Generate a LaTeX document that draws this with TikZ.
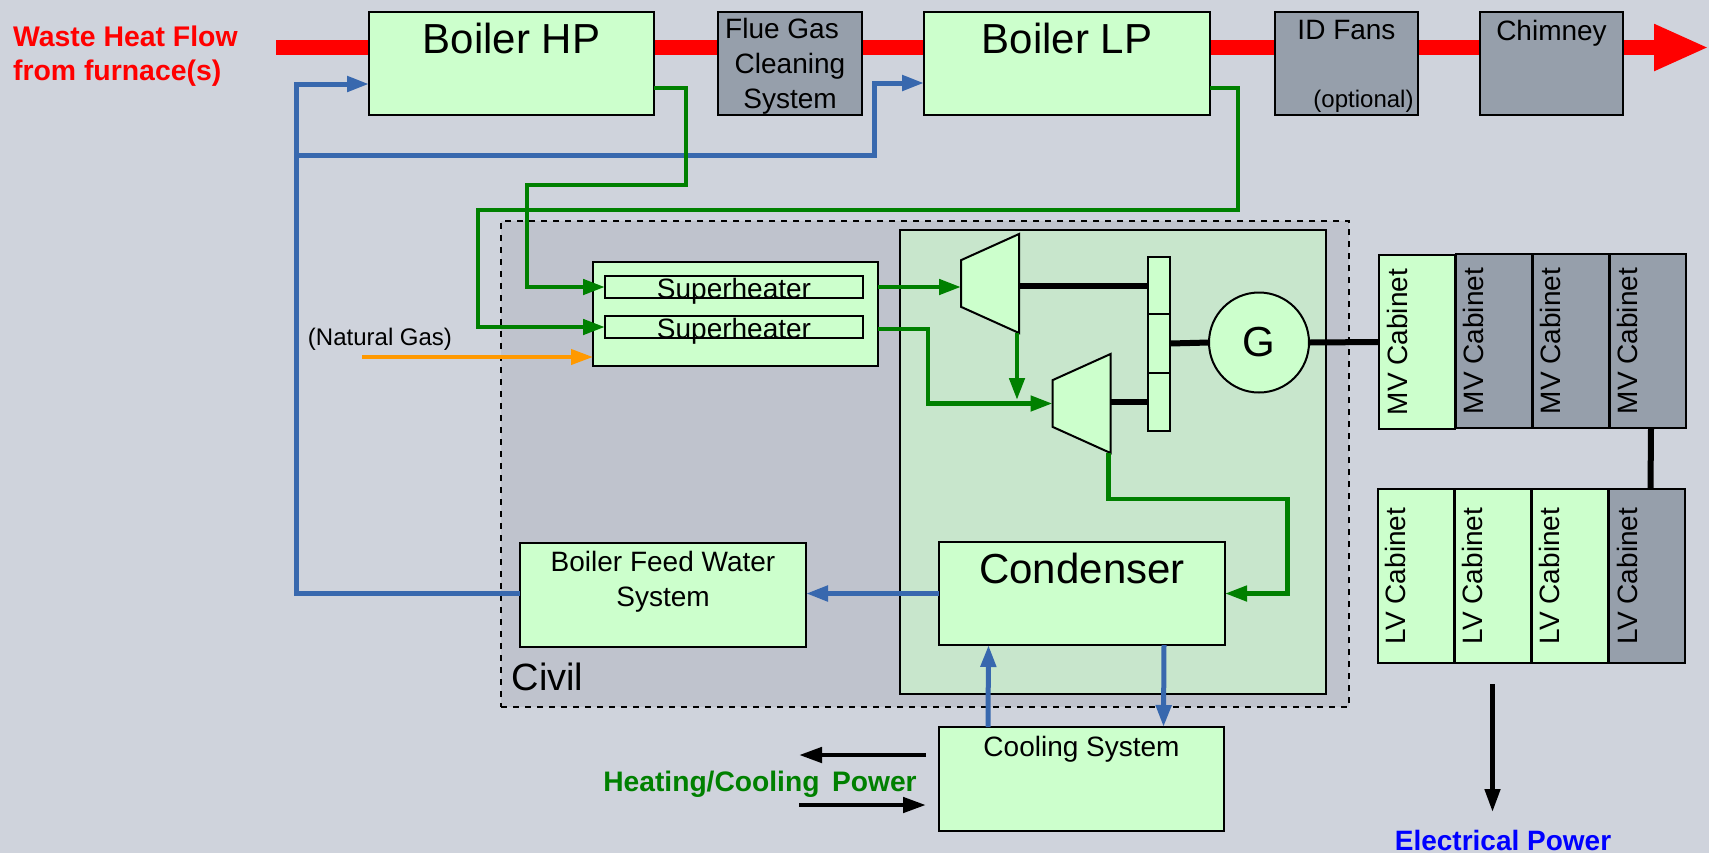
\documentclass[tikz,border=0pt]{standalone}
\usepackage{fontspec}
\setmainfont{Liberation Sans}
\usetikzlibrary{positioning,arrows.meta,shapes.geometric}
\definecolor{pagebg}{HTML}{CFD3DC}
\definecolor{civilbg}{HTML}{BFC3CD}
\definecolor{plantbg}{HTML}{C8E6CC}
\definecolor{lightgreen}{HTML}{CCFFCC}
\definecolor{slate}{HTML}{969FAB}
\definecolor{water}{HTML}{3868AE}
\definecolor{steam}{HTML}{008000}
\definecolor{gas}{HTML}{FF9900}

\begin{document}
\begin{tikzpicture}[
      x=0.5pt, y=-0.5pt,
      smalltext/.style={font=\fontsize{14}{17.5}\selectfont},
      bigtext/.style={font=\fontsize{21}{25}\selectfont},
      unit/.style={rectangle, draw=black, line width=1pt, inner sep=0pt,
      outer sep=0pt, align=center},
      plantbox/.style={unit, fill=lightgreen},
      slatebox/.style={unit, fill=slate},
      heater/.style={plantbox, minimum width=129pt, minimum height=11pt,
      text height=11pt, text depth=0pt, smalltext},
      cabinet/.style={unit, rotate=90, minimum width=87pt,
      minimum height=38pt, text depth=20pt, smalltext},
      shaftbox/.style={plantbox, minimum width=11pt},
      turbine/.style={trapezium, draw=black, line width=1pt, fill=lightgreen,
      trapezium stretches=true, shape border rotate=90, trapezium angle=60.7,
      inner sep=1pt, outer sep=0pt, minimum width=49.5pt, minimum height=29pt},
      flue/.style={-{Triangle[length=27.5pt,width=21.5pt]}, red, line width=7.5pt},
      waterline/.style={-{Triangle[length=11pt,width=7.5pt]}, water, line width=2.5pt},
      steamline/.style={-{Triangle[length=11pt,width=7.5pt]}, steam, line width=2.3pt},
      gasline/.style={-{Triangle[length=11pt,width=7.5pt]}, gas, line width=2pt},
      powerline/.style={-{Triangle[length=11.5pt,width=7.5pt]}, black, line width=2.3pt},
      shaft/.style={black, line width=3pt},
    ]
    \useasboundingbox (0,0) rectangle (1709,853);
    \fill[pagebg] (0,0) rectangle (1709,853);

    \node[unit, dashed, fill=civilbg, minimum width=424pt, minimum height=243pt] (civil) at (925,464) {};
    \node[unit, fill=plantbg, minimum width=213pt, minimum height=232pt] (plant) at (1112.5,462) {};
    \node[font=\fontsize{19}{22}\selectfont] (civillabel) at (547.5,677) {Civil};

    \coordinate (heatsource) at (276,47.5);
    \coordinate (stack) at (1709,47.5);
    \draw[flue] (heatsource) -- (stack);

    \node[font=\fontsize{14.2}{17}\selectfont\bfseries, text=red, align=left, anchor=west] (waste) at (6,56.5)
    {Waste Heat Flow\\from furnace(s)};

    % Boilers and flue path
    \node[plantbox, bigtext, minimum width=142.5pt, minimum height=51.5pt, text depth=25.5pt] (boilerhp) at (511.5,63.5) {Boiler HP};
    \node[slatebox, smalltext, minimum width=72.25pt, minimum height=51.5pt, text depth=0pt] (cleaning) at (790,63.5) {Flue Gas\hspace*{8pt}\\Cleaning\hspace*{6pt}\\System};
    \node[plantbox, bigtext, minimum width=143pt, minimum height=51.5pt, text depth=25.5pt] (boilerlp) at (1067,63.5) {Boiler LP};
    \node[slatebox, smalltext, minimum width=71.5pt, minimum height=51.5pt, text depth=33.5pt] (idfans) at (1346.5,63.5) {ID Fans};
    \node[font=\fontsize{12}{15}\selectfont] (optional) at (1363.5,101) {(optional)};
    \node[slatebox, smalltext, minimum width=71.5pt, minimum height=51.5pt, text depth=33.5pt] (chimney) at (1551.5,63.5) {Chimney};

    % Superheaters
    \node[plantbox, minimum width=142.5pt, minimum height=52pt] (superheat) at (735.5,314) {};
    \node[heater] (sh1) at (734,287) {Superheater};
    \node[heater] (sh2) at (734,327) {Superheater};
    \node[font=\fontsize{12}{15}\selectfont] (gaslabel) at (380,339) {(Natural Gas)};
    \coordinate (gasin) at (362,357);

    % Turbines and generator
    \node[turbine] (hpt) at (990,283.5) {};
    \node[turbine] (lpt) at (1081.5,403.5) {};
    \node[shaftbox, minimum height=28.5pt] (gear1) at (1159,285.5) {};
    \node[shaftbox, minimum height=29.5pt] (gear2) at (1159,343.5) {};
    \node[shaftbox, minimum height=29pt] (gear3) at (1159,402) {};
    \node[plantbox, circle, bigtext, minimum size=50pt] (gen) at (1259,342.5) {G};

    % Water side
    \node[plantbox, smalltext, minimum width=143pt, minimum height=52pt, text depth=16pt] (bfw) at (663,595) {Boiler Feed Water\\System};
    \node[plantbox, bigtext, minimum width=143pt, minimum height=51.5pt, text depth=25.5pt] (condenser) at (1082,593.5) {Condenser};
    \node[plantbox, smalltext, minimum width=142.5pt, minimum height=52pt, text depth=33pt] (cooling) at (1081.5,779) {Cooling System};
    \node[font=\fontsize{14.1}{17.5}\selectfont\bfseries, text=steam] (heatlabel) at (760,784) {Heating/Cooling\, Power};
    \coordinate (heatout) at (799,755);
    \coordinate (heatin) at (799,805);

    % Cabinets
    \node[cabinet, fill=lightgreen] (mv1) at (1417,342) {MV Cabinet};
    \node[cabinet, fill=slate] (mv2) at (1493.5,341) {MV Cabinet};
    \node[cabinet, fill=slate] (mv3) at (1570.5,341) {MV Cabinet};
    \node[cabinet, fill=slate] (mv4) at (1647.5,341) {MV Cabinet};
    \node[cabinet, fill=lightgreen] (lv1) at (1415.5,576) {LV Cabinet};
    \node[cabinet, fill=lightgreen] (lv2) at (1492.5,576) {LV Cabinet};
    \node[cabinet, fill=lightgreen] (lv3) at (1569.5,576) {LV Cabinet};
    \node[cabinet, fill=slate] (lv4) at (1647,576) {LV Cabinet};
    \node[font=\fontsize{14}{17.5}\selectfont\bfseries, text=blue] (elpower) at (1503,840) {Electrical Power};

    \coordinate (feedtop) at (296,84);
    \coordinate (feedtee) at (296,155);
    \coordinate (lpfeed) at (874,83);
    \draw[waterline] ([yshift=1pt]bfw.west) -| (feedtop) -- (feedtop -| boilerhp.west);
    \draw[waterline] (feedtee) -| (lpfeed) -- (lpfeed -| boilerlp.west);
    \draw[waterline] (condenser.west) -- (condenser.west -| bfw.east);
    \draw[waterline] ([xshift=-46.75pt]cooling.north) -- ([xshift=-46.75pt]condenser.south);
    \draw[waterline] ([xshift=41pt]condenser.south) -- ([xshift=41pt]cooling.north);

    \draw[steamline] ([yshift=-12.25pt]boilerhp.east) -- ++(32,0) -- ++(0,97) -- ++(-159,0) |- (sh1.west);
    \draw[steamline] ([yshift=-12.25pt]boilerlp.east) -- ++(28,0) -- ++(0,122) -- ++(-760,0) |- (sh2.west);
    \draw[steamline] (superheat.east |- sh1.east) -- (sh1.east -| hpt.west);
    \draw[steamline] ([yshift=-1pt]superheat.east |- sh2.east) -- ++(50,0) |- (lpt.west);
    \draw[steamline] ([xshift=-1pt]hpt.bottom left corner) -- ++(0,67);
    \draw[steamline] ([xshift=-1pt]lpt.bottom left corner) -- ++(0,46) -- ++(179,0) |- (condenser.east);

    \draw[gasline] (gasin) -- (gasin -| superheat.west);

    \draw[shaft] (gear1.west -| hpt.east) -- (gear1.west);
    \draw[shaft] (gear3.west -| lpt.east) -- (gear3.west);
    \draw[shaft] (gear2.east) -- (gen.west);
    \draw[shaft] (gen.east) -- (mv1.north);
    \draw[shaft] ([xshift=1.75pt]mv4.west) -- ([xshift=1.75pt]lv4.east);

    \draw[powerline] ([shift={(-6.5pt,12pt)}]cooling.west) -- (heatout);
    \draw[powerline] (heatin) -- ([shift={(-6.5pt,-13pt)}]cooling.west);
    \draw[powerline] ([yshift=-10.5pt]lv2.west) -- ++(0,128);
  \end{tikzpicture}
\end{document}
